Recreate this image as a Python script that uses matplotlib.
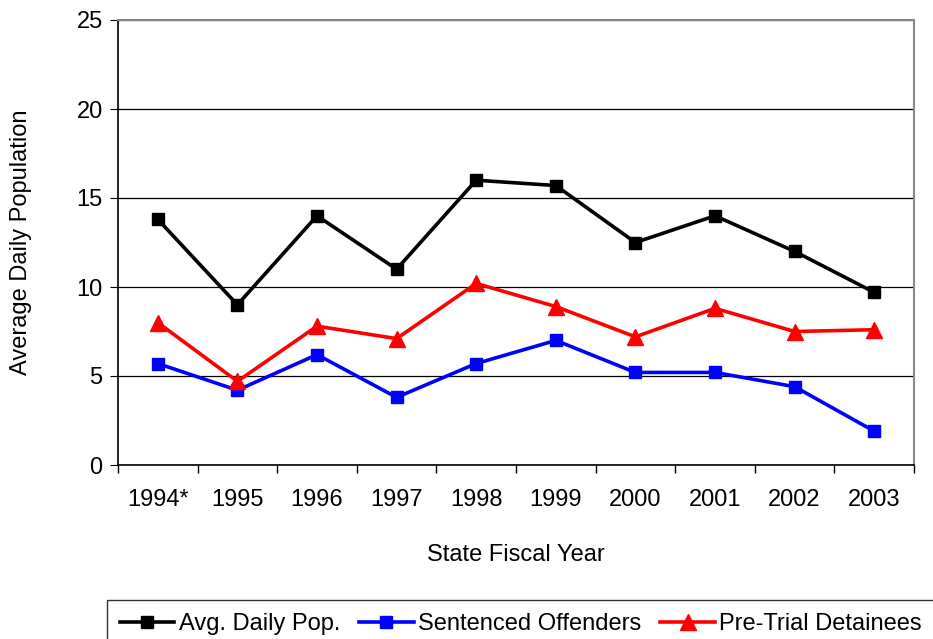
import matplotlib
matplotlib.use("Agg")
import matplotlib.pyplot as plt

years = ["1994*", "1995", "1996", "1997", "1998", "1999", "2000", "2001", "2002", "2003"]
avg_daily = [13.8, 9.0, 14.0, 11.0, 16.0, 15.7, 12.5, 14.0, 12.0, 9.7]
sentenced = [5.7, 4.2, 6.2, 3.8, 5.7, 7.0, 5.2, 5.2, 4.4, 1.9]
pretrial = [8.0, 4.7, 7.8, 7.1, 10.2, 8.9, 7.2, 8.8, 7.5, 7.6]

plt.rcParams["font.family"] = ["Liberation Sans", "DejaVu Sans"]
fs = 17

fig = plt.figure(figsize=(9.33, 6.39), dpi=100)
ax = fig.add_axes([118 / 933, 1 - 465 / 639, (914 - 118) / 933, (465 - 20) / 639])

x = list(range(len(years)))
ax.plot(x, avg_daily, color="black", lw=2.6, marker="s", ms=9, label="Avg. Daily Pop.")
ax.plot(x, sentenced, color="#0000ff", lw=2.6, marker="s", ms=9, label="Sentenced Offenders")
ax.plot(x, pretrial, color="#ff0000", lw=2.6, marker="^", ms=11, label="Pre-Trial Detainees")

ax.set_xlim(-0.5, len(years) - 0.5)
ax.set_ylim(0, 25)
ax.set_yticks([0, 5, 10, 15, 20, 25])
ax.yaxis.grid(True, color="black", lw=0.9)
ax.set_axisbelow(True)

ax.set_xticks(x)
ax.set_xticklabels(years)
ax.set_xticks([i - 0.5 for i in range(len(years) + 1)], minor=True)
ax.tick_params(axis="x", which="major", length=0, pad=17, labelsize=fs)
ax.tick_params(axis="x", which="minor", length=6, direction="out", width=1)
ax.tick_params(axis="y", length=6, direction="out", labelsize=fs, pad=5)

for s in ["top", "right"]:
    ax.spines[s].set_color("#888888")
    ax.spines[s].set_linewidth(1.5)
for s in ["left", "bottom"]:
    ax.spines[s].set_color("black")
    ax.spines[s].set_linewidth(1.2)

ax.set_ylabel("Average Daily Population", fontsize=fs, labelpad=32)
ax.set_xlabel("State Fiscal Year", fontsize=fs, labelpad=24)

leg = fig.legend(loc="upper left", bbox_to_anchor=(107 / 933, 1 - 600 / 639), ncol=3,
                 fontsize=fs, frameon=True, fancybox=False, handlelength=2.3,
                 handletextpad=0.2, columnspacing=0.8, borderpad=0.55, borderaxespad=0)
leg.get_frame().set_edgecolor("black")
leg.get_frame().set_linewidth(1.0)

fig.savefig("out.png", dpi=100)
